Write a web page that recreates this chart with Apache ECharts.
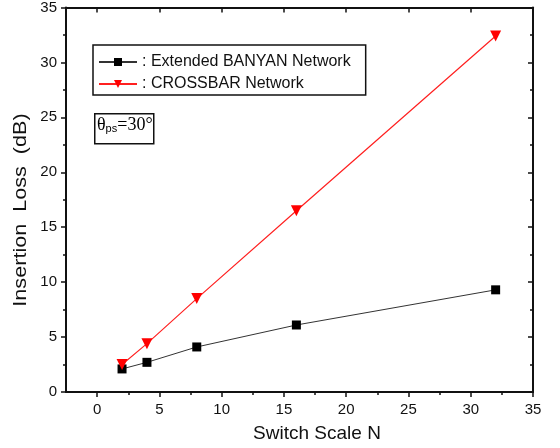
<!DOCTYPE html>
<html>
<head>
<meta charset="utf-8">
<script src="https://cdn.jsdelivr.net/npm/echarts@6/dist/echarts.min.js"></script>
<style>
  html, body { margin: 0; padding: 0; background: #fff; }
  #app { width: 560px; height: 448px; }
</style>
</head>
<body>
<div id="app"></div>
<script>
// switch scale N
var scaleN = [2, 4, 8, 16, 32];
// insertion loss (dB)
var banyanLoss = [2.1, 2.7, 4.1, 6.1, 9.3];
var crossbarLoss = [2.5, 4.4, 8.5, 16.5, 32.4];
// axis ticks
var xMajorTicks = [0, 5, 10, 15, 20, 25, 30, 35];
var xMinorTicks = [2.5, 7.5, 12.5, 17.5, 22.5, 27.5, 32.5];

var font = 'Liberation Sans, Arial, sans-serif';

function pairs(xs, ys) {
    return xs.map(function (x, i) { return [x, ys[i]]; });
}

var el = document.getElementById('app');
var myChart = echarts.init(el);

var hidden = { show: false };
var axisStroke = { color: '#111', width: 2 };
var tickStroke = { color: '#111', width: 1.5 };

var option = {
    animation: false,
    backgroundColor: '#fff',
    grid: { left: 66, right: 27, top: 7, bottom: 56 },
    legend: {
        orient: 'vertical',
        left: 93,
        top: 45,
        padding: [9, 15, 3, 5],
        itemGap: 6,
        itemWidth: 38,
        itemHeight: 10,
        borderColor: '#111',
        borderWidth: 1.5,
        backgroundColor: '#fff',
        textStyle: { fontFamily: font, fontSize: 16, color: '#111' },
        formatter: function (name) { return ': ' + name; },
        data: ['Extended BANYAN Network', 'CROSSBAR Network']
    },
    xAxis: [
        {
            type: 'value', position: 'bottom', min: -2.5, max: 35,
            name: 'Switch Scale N', nameLocation: 'middle', nameGap: 32,
            nameTextStyle: { fontFamily: font, fontSize: 19, color: '#111', padding: [0, 0, 0, 35] },
            axisLine: { show: true, onZero: false, lineStyle: axisStroke },
            axisTick: { show: true, inside: false, length: 5, customValues: xMajorTicks, lineStyle: tickStroke },
            axisLabel: { customValues: xMajorTicks, fontFamily: font, fontSize: 15, color: '#111', margin: 10 },
            splitLine: hidden
        },
        {
            type: 'value', position: 'bottom', min: -2.5, max: 35,
            axisLine: hidden, axisLabel: hidden, splitLine: hidden,
            axisTick: { show: true, inside: false, length: 3, customValues: xMinorTicks, lineStyle: tickStroke }
        },
        {
            type: 'value', position: 'top', min: -2.5, max: 35,
            axisLine: { show: true, onZero: false, lineStyle: axisStroke },
            axisLabel: hidden, splitLine: hidden,
            axisTick: { show: true, inside: true, length: 5, customValues: xMajorTicks, lineStyle: tickStroke }
        },
        {
            type: 'value', position: 'top', min: -2.5, max: 35,
            axisLine: hidden, axisLabel: hidden, splitLine: hidden,
            axisTick: { show: true, inside: true, length: 3, customValues: xMinorTicks, lineStyle: tickStroke }
        }
    ],
    yAxis: [
        {
            type: 'value', position: 'left', min: 0, max: 35, interval: 5,
            axisLine: { show: true, onZero: false, lineStyle: axisStroke },
            axisTick: { show: true, inside: false, length: 5, lineStyle: tickStroke },
            minorTick: { show: true, splitNumber: 2, length: 3, lineStyle: tickStroke },
            axisLabel: { fontFamily: font, fontSize: 15, color: '#111', margin: 9 },
            splitLine: hidden
        },
        {
            type: 'value', position: 'right', min: 0, max: 35, interval: 5,
            axisLine: { show: true, onZero: false, lineStyle: axisStroke },
            axisTick: { show: true, inside: true, length: 5, lineStyle: tickStroke },
            minorTick: { show: true, splitNumber: 2, length: 3, lineStyle: tickStroke },
            axisLabel: hidden, splitLine: hidden
        }
    ],
    graphic: [
        {
            // y axis title, stretched along its baseline like the original
            type: 'text', x: 21, y: 210, rotation: Math.PI / 2, scaleX: 1.2,
            style: {
                text: 'Insertion  Loss  (dB)',
                fontFamily: font, fontSize: 18, fill: '#111',
                align: 'center', verticalAlign: 'middle'
            }
        },
        {
            type: 'rect', left: 94, top: 113,
            shape: { width: 59, height: 30 },
            style: { fill: '#fff', stroke: '#111', lineWidth: 1.5 }
        },
        {
            type: 'text', left: 97, top: 116,
            style: {
                text: '{a|θ}{s|ps}{a|=30°}',
                rich: {
                    a: { fontFamily: 'Liberation Serif, Times New Roman, serif', fontSize: 18, color: '#111', verticalAlign: 'bottom' },
                    s: { fontFamily: font, fontSize: 11, color: '#111', verticalAlign: 'bottom', padding: [6, 0, 0, 0] }
                }
            }
        }
    ],
    series: [
        {
            name: 'Extended BANYAN Network',
            type: 'line',
            data: pairs(scaleN, banyanLoss),
            symbol: 'rect', symbolSize: 9,
            itemStyle: { color: '#000' },
            lineStyle: { color: '#333', width: 1 }
        },
        {
            name: 'CROSSBAR Network',
            type: 'line',
            data: pairs(scaleN, crossbarLoss),
            symbol: 'triangle', symbolSize: 11, symbolRotate: 180,
            itemStyle: { color: '#ff0000' },
            lineStyle: { color: '#ff2020', width: 1.2 }
        }
    ]
};

myChart.setOption(option);
</script>
</body>
</html>
